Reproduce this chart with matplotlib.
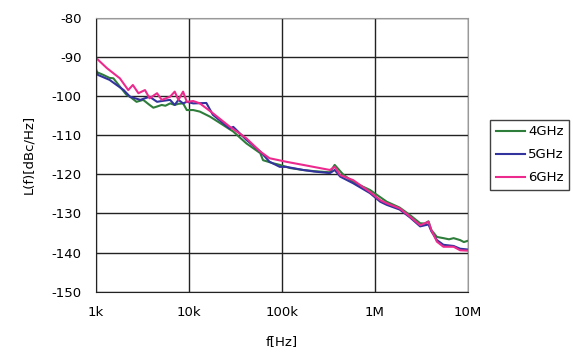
import matplotlib
matplotlib.use("Agg")
import matplotlib.pyplot as plt
from matplotlib.ticker import FixedLocator, FixedFormatter, NullLocator

plt.rcParams['font.family'] = ['DejaVu Sans']
plt.rcParams['axes.unicode_minus'] = False

# phase noise L(f) in dBc/Hz versus offset frequency
f_4g = [1000, 1200, 1410, 1550, 1820, 2140, 2340, 2750, 3240, 3800, 4170, 4570, 5130,
        5620, 6310, 7080, 7760, 8710, 9550, 11200, 13200, 17000, 23400, 30200, 41700,
        58900, 63100, 81300, 95500, 123000, 170000, 224000, 331000, 372000, 457000,
        589000, 891000, 1350000, 1860000, 2400000, 3090000, 3470000, 3800000, 4070000,
        4680000, 5500000, 6310000, 7080000, 8320000, 9120000, 10000000]
l_4g = [-93.8, -94.6, -95.4, -95.5, -97.6, -99.7, -100.2, -101.5, -101.0, -102.3, -103.0,
        -102.7, -102.3, -102.5, -101.9, -102.3, -102.0, -101.9, -103.6, -103.6, -104.0,
        -105.3, -107.4, -109.1, -112.1, -114.6, -116.4, -117.2, -117.6, -118.4, -118.9,
        -119.2, -119.5, -117.6, -120.0, -122.0, -124.0, -127.0, -128.5, -130.4, -132.5,
        -132.6, -132.0, -134.2, -136.0, -136.3, -136.6, -136.3, -136.8, -137.3, -137.0]

f_5g = [1000, 1050, 1410, 2000, 2340, 3020, 3800, 4570, 5130, 6310, 7080, 7760, 8710,
        9550, 11200, 15500, 18200, 27500, 30200, 41700, 58900, 74100, 95500, 112000,
        170000, 224000, 331000, 372000, 427000, 589000, 891000, 1150000, 1350000,
        1860000, 2400000, 3090000, 3800000, 4070000, 4680000, 5500000, 7080000, 8320000,
        10000000]
l_5g = [-92.9, -94.6, -95.9, -98.5, -100.2, -101.0, -100.2, -101.5, -101.3, -101.0,
        -102.3, -101.0, -101.9, -101.5, -101.9, -101.8, -104.8, -108.3, -107.9, -111.2,
        -114.2, -116.8, -118.1, -118.1, -118.9, -119.3, -119.7, -118.9, -120.6, -122.3,
        -124.8, -127.0, -127.8, -129.0, -131.0, -133.3, -132.8, -134.5, -136.8, -138.0,
        -138.3, -139.0, -139.2]

f_6g = [1000, 1320, 1820, 2240, 2510, 2880, 3390, 3800, 4570, 5130, 6310, 7080, 7760,
        8710, 9550, 11200, 13200, 18200, 27500, 41700, 58900, 74100, 112000, 170000,
        331000, 372000, 427000, 589000, 891000, 1150000, 1350000, 1860000, 2400000,
        3090000, 3800000, 4070000, 4680000, 5500000, 7080000, 8320000, 10000000]
l_6g = [-90.2, -92.9, -95.5, -98.5, -97.2, -99.3, -98.5, -100.6, -99.3, -101.0, -100.2,
        -98.9, -101.0, -98.9, -101.5, -101.3, -101.9, -104.4, -107.8, -110.8, -114.2,
        -115.9, -116.8, -117.6, -118.9, -118.1, -120.2, -121.5, -124.5, -126.6, -127.4,
        -128.7, -130.8, -133.0, -132.1, -134.2, -137.2, -138.5, -138.5, -139.4, -139.5]

series = [("4GHz", f_4g, l_4g, "#2e7d3a"),
          ("5GHz", f_5g, l_5g, "#33339e"),
          ("6GHz", f_6g, l_6g, "#ec2a8e")]

x_ticks = [1e3, 1e4, 1e5, 1e6, 1e7]
x_labels = ["1k", "10k", "100k", "1M", "10M"]
y_ticks = [-150, -140, -130, -120, -110, -100, -90, -80]

fig = plt.figure(figsize=(5.73, 3.52), dpi=100)
ax = fig.add_axes([0.167, 0.171, 0.649, 0.779])

for name, f, l, c in series:
    ax.plot(f, l, color=c, linewidth=1.5, label=name)

ax.set_xscale("log")
ax.set_xlim(1e3, 1e7)
ax.set_ylim(-150, -80)
ax.xaxis.set_major_locator(FixedLocator(x_ticks))
ax.xaxis.set_major_formatter(FixedFormatter(x_labels))
ax.xaxis.set_minor_locator(NullLocator())
ax.set_yticks(y_ticks)
ax.set_yticklabels([str(v) for v in y_ticks])
ax.tick_params(length=0, labelsize=9.5, pad=10)
ax.grid(True, color="#222222", linewidth=1.0)
ax.set_axisbelow(True)

for side in ("left", "bottom"):
    ax.spines[side].set_color("#222222")
for side in ("top", "right"):
    ax.spines[side].set_color("#999999")

ax.set_xlabel("f[Hz]", fontsize=9.5, labelpad=12)
ax.set_ylabel("L(f)[dBc/Hz]", fontsize=9.5, labelpad=12)

leg = fig.legend(loc="center left", bbox_to_anchor=(0.856, 0.56), fontsize=9.5,
                 handlelength=2.2, handletextpad=0.25, labelspacing=0.75,
                 borderpad=0.4, borderaxespad=0, frameon=True, fancybox=False)
leg.get_frame().set_edgecolor("#111111")
leg.get_frame().set_linewidth(1.0)

fig.savefig("out.png", dpi=100)
